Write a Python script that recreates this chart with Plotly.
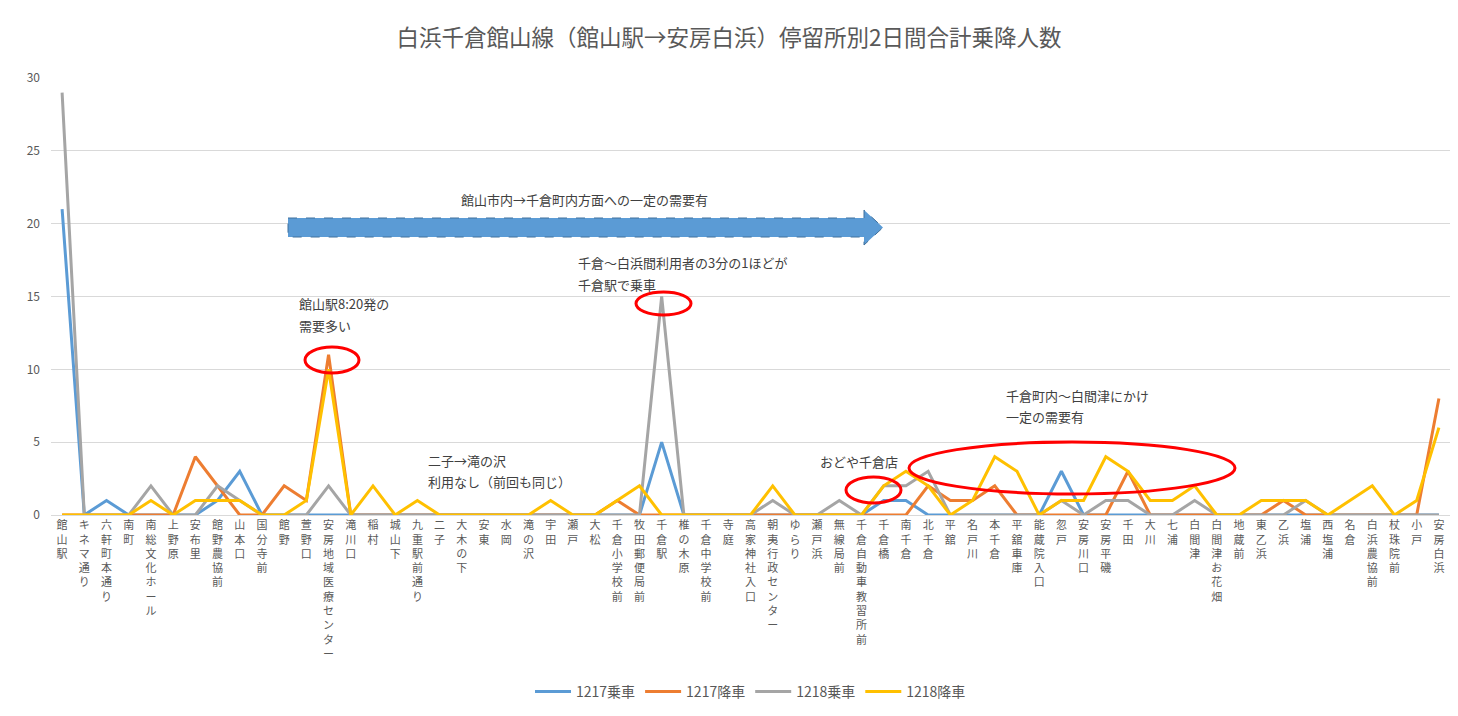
import plotly.graph_objects as go

# ---------------- data ----------------
stops = [
    "館山駅", "キネマ通り", "六軒町本通り", "南町", "南総文化ホール", "上野原", "安布里",
    "館野農協前", "山本口", "国分寺前", "館野", "萱野口", "安房地域医療センター", "滝川口",
    "稲村", "城山下", "九重駅前通り", "二子", "大木の下", "安東", "水岡", "滝の沢", "宇田",
    "瀬戸", "大松", "千倉小学校前", "牧田郵便局前", "千倉駅", "椎の木原", "千倉中学校前",
    "寺庭", "高家神社入口", "朝夷行政センター", "ゆらり", "瀬戸浜", "無線局前",
    "千倉自動車教習所前", "千倉橋", "南千倉", "北千倉", "平舘", "名戸川", "本千倉",
    "平舘車庫", "能蔵院入口", "忽戸", "安房川口", "安房平磯", "千田", "大川", "七浦",
    "白間津", "白間津お花畑", "地蔵前", "東乙浜", "乙浜", "塩浦", "西塩浦", "名倉",
    "白浜農協前", "杖珠院前", "小戸", "安房白浜",
]

board_1217 = [21, 0, 1, 0, 0, 0, 0, 1, 3, 0, 0, 0, 0, 0, 0, 0, 0, 0, 0, 0, 0, 0, 0, 0, 0, 0, 0,
              5, 0, 0, 0, 0, 0, 0, 0, 0, 0, 1, 1, 0, 0, 0, 0, 0, 0, 3, 0, 0, 0, 0, 0, 0, 0, 0,
              0, 0, 0, 0, 0, 0, 0, 0, 0]
alight_1217 = [0, 0, 0, 0, 0, 0, 4, 2, 0, 0, 2, 1, 11, 0, 0, 0, 0, 0, 0, 0, 0, 0, 0, 0, 0, 1, 0,
               0, 0, 0, 0, 0, 0, 0, 0, 0, 0, 0, 0, 2, 1, 1, 2, 0, 0, 0, 0, 0, 3, 0, 0, 0, 0, 0,
               0, 1, 0, 0, 0, 0, 0, 0, 8]
board_1218 = [29, 0, 0, 0, 2, 0, 0, 2, 1, 0, 0, 0, 2, 0, 0, 0, 0, 0, 0, 0, 0, 0, 0, 0, 0, 0, 0,
              15, 0, 0, 0, 0, 1, 0, 0, 1, 0, 2, 2, 3, 0, 0, 0, 0, 0, 1, 0, 1, 1, 0, 0, 1, 0, 0,
              0, 0, 1, 0, 0, 0, 0, 0, 0]
alight_1218 = [0, 0, 0, 0, 1, 0, 1, 1, 1, 0, 0, 1, 10, 0, 2, 0, 1, 0, 0, 0, 0, 0, 1, 0, 0, 1, 2,
               0, 0, 0, 0, 0, 2, 0, 0, 0, 0, 2, 3, 2, 0, 1, 4, 3, 0, 1, 1, 4, 3, 1, 1, 2, 0, 0,
               1, 1, 1, 0, 1, 2, 0, 1, 6]

series_names = ["1217乗車", "1217降車", "1218乗車", "1218降車"]
series_colors = ["#5B9BD5", "#ED7D31", "#A5A5A5", "#FFC000"]

title_text = "白浜千倉館山線（館山駅→安房白浜）停留所別2日間合計乗降人数"

FONT = "Noto Sans CJK JP, Noto Sans, sans-serif"

# ---------------- figure ----------------
fig = go.Figure()
for name, vals, col in zip(series_names, [board_1217, alight_1217, board_1218, alight_1218],
                           series_colors):
    fig.add_trace(go.Scatter(x=stops, y=vals, mode="lines", name=name,
                             line=dict(color=col, width=3)))

# page body has an 8px margin; figure is sized so that it fits in the window
OFF = 8
FIG_W, FIG_H = 1458 - 2 * OFF, 716 - 2 * OFF
# plot area in page pixels
PL, PR, PT, PB = 51, 1450, 78, 515


def fx(px):
    return (px - PL) / (PR - PL)


def fy(py):
    return (PB - py) / (PB - PT)


shapes = []
# block arrow
ax = [288, 864, 883]
ay_body = (218, 237)
ay_head = (210, 245)
tip_y = 227.5
path = (f"M {fx(ax[0])},{fy(ay_body[0])} L {fx(ax[1])},{fy(ay_body[0])} "
        f"L {fx(ax[1])},{fy(ay_head[0])} L {fx(ax[2])},{fy(tip_y)} "
        f"L {fx(ax[1])},{fy(ay_head[1])} L {fx(ax[1])},{fy(ay_body[1])} "
        f"L {fx(ax[0])},{fy(ay_body[1])} Z")
shapes.append(dict(type="path", xref="paper", yref="paper", path=path,
                   fillcolor="#5B9BD5", line=dict(color="#41719C", width=1, dash="dash")))

# red ellipses (x0, x1, y_top, y_bottom) in page pixels
ellipses = [(305, 359, 347, 373), (636, 691, 292, 315), (846, 901, 477, 503),
            (909, 1235, 442, 494)]
for x0, x1, yt, yb in ellipses:
    shapes.append(dict(type="circle", xref="paper", yref="paper",
                       x0=fx(x0), x1=fx(x1), y0=fy(yb), y1=fy(yt),
                       line=dict(color="#FF0000", width=3)))

# text notes (left x, center y, text) in page pixels
notes = [
    (459, 199, "館山市内→千倉町内方面への一定の需要有"),
    (297, 303, "館山駅8:20発の"),
    (297, 325, "需要多い"),
    (576, 262, "千倉～白浜間利用者の3分の1ほどが"),
    (576, 284, "千倉駅で乗車"),
    (426, 460, "二子→滝の沢"),
    (426, 481, "利用なし（前回も同じ）"),
    (818, 461, "おどや千倉店"),
    (1004, 395, "千倉町内～白間津にかけ"),
    (1004, 416, "一定の需要有"),
]
annotations = []
for x, y, t in notes:
    annotations.append(dict(xref="paper", yref="paper", x=fx(x), y=fy(y), text=t,
                            showarrow=False, xanchor="left", yanchor="middle",
                            font=dict(family=FONT, size=13, color="#404040")))

vertical_labels = ["<br>".join(list(s)) for s in stops]

fig.update_layout(
    width=FIG_W, height=FIG_H,
    margin=dict(l=PL - OFF, r=FIG_W - (PR - OFF), t=PT - OFF, b=FIG_H - (PB - OFF), pad=0),
    paper_bgcolor="white", plot_bgcolor="white",
    font=dict(family=FONT, color="#595959"),
    title=dict(text=title_text, x=0.5, xanchor="center", y=1 - (38 - OFF) / FIG_H,
               yanchor="middle", font=dict(family=FONT, size=22.5, color="#595959")),
    xaxis=dict(type="category", range=[-0.5, len(stops) - 0.5], tickmode="array",
               tickvals=stops, ticktext=vertical_labels, tickangle=0,
               tickfont=dict(family=FONT, size=11, color="#595959"),
               showgrid=False, showline=True, linecolor="#D9D9D9", linewidth=1,
               ticks="", automargin=False, fixedrange=True),
    yaxis=dict(range=[0, 30], dtick=5, showgrid=True, gridcolor="#D9D9D9", gridwidth=1,
               zeroline=False, showline=False, ticks="", ticklabelstandoff=10,
               tickfont=dict(family=FONT, size=12, color="#595959"), automargin=False),
    legend=dict(orientation="h", x=0.5, xanchor="center", y=fy(692), yanchor="middle",
                font=dict(family=FONT, size=14, color="#595959"), bgcolor="rgba(0,0,0,0)",
                itemwidth=36),
    shapes=shapes, annotations=annotations,
    showlegend=True,
)

fig.write_html("out.html")
